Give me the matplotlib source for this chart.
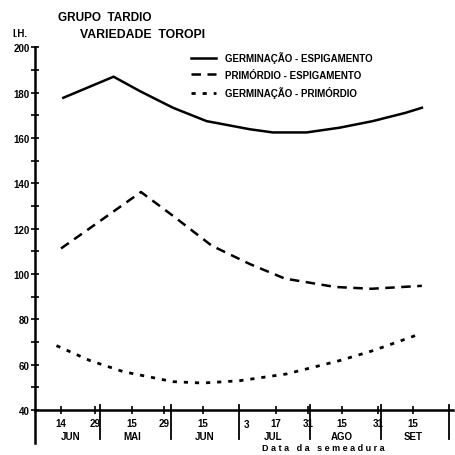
import matplotlib
matplotlib.use("Agg")
import matplotlib.pyplot as plt
import matplotlib.transforms as mtransforms

plt.rcParams['font.family'] = ['Liberation Sans', 'DejaVu Sans']
plt.rcParams['font.weight'] = 'bold'

# x = day of the year of the sowing date
ger_esp_x = [105, 127, 138.6, 153, 167.7, 186.7, 196.7, 211.5, 226, 240.5, 255, 262]
ger_esp_y = [177.8, 187.1, 180.7, 173.4, 167.5, 163.9, 162.5, 162.5, 164.6, 167.5, 171.2, 173.4]

pri_esp_x = [104, 116, 139, 153, 170, 186.7, 202, 224, 240, 262]
pri_esp_y = [111.3, 119.8, 136.2, 125.7, 112.5, 104.4, 98, 94.3, 93.5, 94.8]

ger_pri_x = [102, 116.7, 131.3, 153, 166, 182, 202.7, 226, 240.6, 261]
ger_pri_y = [68.4, 61.8, 56.9, 52.5, 51.9, 52.9, 55.9, 61.8, 66.2, 73.5]

labels = ["GERMINAÇÃO - ESPIGAMENTO", "PRIMÓRDIO - ESPIGAMENTO", "GERMINAÇÃO - PRIMÓRDIO"]

date_ticks = [104, 119, 135, 149, 166, 198, 212, 227, 243, 258]
date_labels = ["14", "29", "15", "29", "15", "17", "31", "15", "31", "15"]
month_pos = [108, 135, 167, 197, 227, 258]
month_names = ["JUN", "MAI", "JUN", "JUL", "AGO", "SET"]
month_bounds = [121, 152, 182, 213, 244, 274]

fig = plt.figure(figsize=(4.56, 4.56), dpi=100)
ax = fig.add_axes([0.0768, 0.0987, 0.916, 0.795])

l1, = ax.plot(ger_esp_x, ger_esp_y, color='black', lw=1.8, solid_joinstyle='miter')
l2, = ax.plot(pri_esp_x, pri_esp_y, color='black', lw=1.8, linestyle=(0, (3.8, 2.6)))
l3, = ax.plot(ger_pri_x, ger_pri_y, color='black', lw=2.0, linestyle=(0, (1.5, 2.5)))

ax.set_xlim(92.6, 275.5)
ax.set_ylim(40, 200)
ax.spines['top'].set_visible(False)
ax.spines['right'].set_visible(False)
ax.spines['left'].set_linewidth(1.8)
ax.spines['bottom'].set_linewidth(1.8)

ax.set_yticks(range(40, 201, 20))
ax.set_yticks(range(50, 200, 20), minor=True)
ax.tick_params(axis='y', which='both', direction='inout', length=6, width=1.2, labelsize=7, pad=1)
ax.set_xticks(date_ticks)
ax.set_xticklabels(date_labels)
ax.tick_params(axis='x', direction='inout', length=6, width=1.2, labelsize=7, pad=3)

trans = mtransforms.blended_transform_factory(ax.transData, ax.transAxes)
for b in month_bounds:
    ax.plot([b, b], [0.015, -0.08], color='black', lw=1.3, transform=trans, clip_on=False)
ax.plot([92.6, 92.6], [0, -0.09], color='black', lw=1.8, transform=trans, clip_on=False)
ax.text(185, -0.04, "3", transform=trans, ha='center', va='center', fontsize=7)
for p, m in zip(month_pos, month_names):
    ax.text(p, -0.072, m, transform=trans, ha='center', va='center', fontsize=7)
ax.text(0.71, 0.016, "D a t a   d a   s e m e a d u r a", transform=fig.transFigure,
        ha='center', va='center', fontsize=6.5)

fig.text(0.127, 0.96, "GRUPO  TARDIO", ha='left', va='center', fontsize=8.5)
fig.text(0.175, 0.923, "VARIEDADE  TOROPI", ha='left', va='center', fontsize=8.8)
fig.text(0.027, 0.925, "I.H.", ha='left', va='center', fontsize=7)

fig.legend([l1, l2, l3], labels, loc='upper left', bbox_to_anchor=(0.418, 0.885),
           frameon=False, fontsize=7, handlelength=2.6, handletextpad=0.9,
           labelspacing=0.65, borderpad=0, borderaxespad=0)

fig.savefig("out.png", dpi=100)
